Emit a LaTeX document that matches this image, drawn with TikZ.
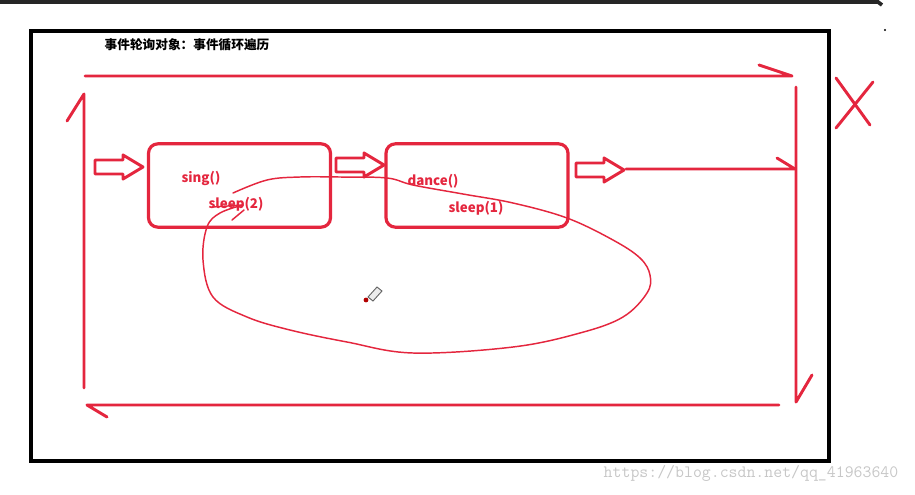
\documentclass[tikz,border=0pt]{standalone}
\usepackage{fontspec}
\newfontfamily\cjk{Noto Sans CJK SC}
\definecolor{inkred}{RGB}{228,38,62}
\tikzset{
  hollow/.pic={\draw[pen] (0,-7) -- (28,-7) -- (28,-12) -- (48,0) -- (28,12) -- (28,7) -- (0,7) -- cycle;}
}
\begin{document}
\begin{tikzpicture}[x=0.75pt,y=-0.75pt,
    pen/.style={draw=inkred, line width=2.2pt, line cap=round, line join=round},
    thin pen/.style={draw=inkred, line width=1.1pt, line cap=round},
    box/.style={draw=inkred, line width=2.4pt, rounded corners=7pt, minimum width=136.5pt, minimum height=62.5pt},
    call/.style={text=inkred, font=\cjk\bfseries\fontsize{10pt}{12pt}\selectfont, inner sep=0pt}]
    \useasboundingbox (0,0) rectangle (915,494);
    % screen edge and frame
    \draw[black!85, line width=2.8pt] (0,2) -- (878,2) -- (882,5);
    \fill[black] (885,30) circle (1.2);
    \draw[black, line width=2.3pt] (31,31) rectangle (829,461);
    \node[font=\cjk\bfseries\fontsize{9.5pt}{11pt}\selectfont, inner sep=0pt] (title) at (187,45) {事件轮询对象：事件循环遍历};
    % the loop round the frame
    \draw[pen] (85,76) -- (792,76) -- (759,65);
    \draw[pen] (796,87) -- (796,402) -- (812,375);
    \draw[pen] (779,405) -- (87,405) -- (107,417);
    \draw[pen] (84,388) -- (84,94) -- (67,121);
    % X mark
    \draw[pen] (836,78) -- (870,125);
    \draw[pen] (873,82) -- (836,128);
    % the two tasks
    \node[box] (singbox) at (239.5,185.5) {};
    \node[box] (dancebox) at (477,185.5) {};
    \node[call] (sing) at (201,178) {sing()};
    \node[call] (sleepa) at (236,204) {sleep(2)};
    \node[call] (dance) at (433,181) {dance()};
    \node[call] (sleepb) at (476,208) {sleep(1)};
    \pic at (95,167) {hollow};
    \pic at (336,165) {hollow};
    \pic at (576,170) {hollow};
    \draw[pen] (626,169) -- (795,169) -- (777,158);
    % waiting loop
    \draw[thin pen] plot[smooth, tension=0.6] coordinates {(233,193) (267,180) (300,177) (340,177) (387,178) (413,185) (463,194) (513,203) (567,218) (613,240) (640,258) (650,275) (647,293) (623,317) (580,333) (513,347) (413,353) (347,342) (290,330) (247,317) (213,297) (203,260) (207,227) (220,213) (243,205)};
    \draw[thin pen] (212,207) -- (243,205);
    \draw[thin pen] (232,220) -- (244,210);
    % pencil cursor
    \draw[black!60, fill=white!85!gray, line width=0.7pt] (368,297) -- (377,287) -- (382,291) -- (373,301) -- cycle;
    \fill[red!70!black] (366,300) circle (2.4);
    % watermark
    \node[text=black!22, font=\ttfamily\fontsize{13pt}{15pt}\selectfont, inner sep=0pt] (mark) at (751,473) {https://blog.csdn.net/qq\_41963640};
\end{tikzpicture}
\end{document}
